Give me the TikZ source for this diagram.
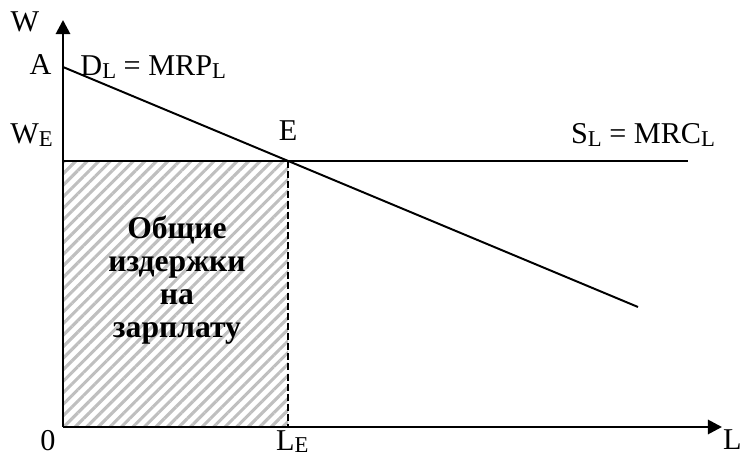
\documentclass[tikz,border=0pt]{standalone}
\usepackage{fontspec}
\setmainfont{Liberation Serif}
\usetikzlibrary{arrows.meta,patterns.meta}
\newcommand{\lsub}[1]{\raisebox{-0.08em}{\scalebox{0.75}{#1}}}

\begin{document}
\begin{tikzpicture}[font=\fontsize{21.5}{25}\selectfont,
	axis/.style={line width=2pt,-{Triangle[length=10pt,width=10pt]}},
	curve/.style={line width=1.4pt},
	lbl/.style={inner sep=0pt}]
	\useasboundingbox (-1.575,-0.725) rectangle (16.975,10.675);
	% points
	\coordinate (O) at (0,0);
	\coordinate (Wtop) at (0,10.175);
	\coordinate (Lend) at (16.475,0);
	\coordinate (A) at (0,9);
	\coordinate (WE) at (0,6.65);
	\coordinate (E) at (5.625,6.65);
	\coordinate (LE) at (5.625,0);
	\coordinate (Dend) at (14.375,3.0);
	\coordinate (Send) at (15.625,6.65);
	% wage bill
	\fill [pattern={Lines[angle=45,distance=5.8pt,line width=2.2pt]},pattern color=black!25] (O) rectangle (E);
	\draw [line width=1pt,dash pattern=on 5pt off 2.2pt] (E) -- (LE);
	\draw [curve] (WE) -- (Send);
	\draw [curve] (A) -- (Dend);
	\draw [axis] (O) -- (Wtop);
	\draw [axis] (O) -- (Lend);
	% labels
	\node [lbl] at (-0.95,10.12) (w) {W};
	\node [lbl,anchor=east] at (-0.28,9.05) (a) {A};
	\node [lbl,anchor=west] at (0.43,9.0) (dl) {D\lsub{L} = MRP\lsub{L}};
	\node [lbl,anchor=east] at (-0.25,7.3) (we) {W\lsub{E}};
	\node [lbl] at (5.625,7.4) (e) {E};
	\node [lbl] at (14.5,7.3) (sl) {S\lsub{L} = MRC\lsub{L}};
	\node [lbl] at (-0.375,-0.35) (zero) {0};
	\node [lbl] at (5.73,-0.36) (le) {L\lsub{E}};
	\node [lbl,anchor=east] at (16.97,-0.32) (l) {L};
	\node [align=center,font=\fontsize{22.5}{23.5}\selectfont\bfseries] at (2.85,3.67) (cost)
		{Общие\\издержки\\на\\зарплату};
\end{tikzpicture}
\end{document}
